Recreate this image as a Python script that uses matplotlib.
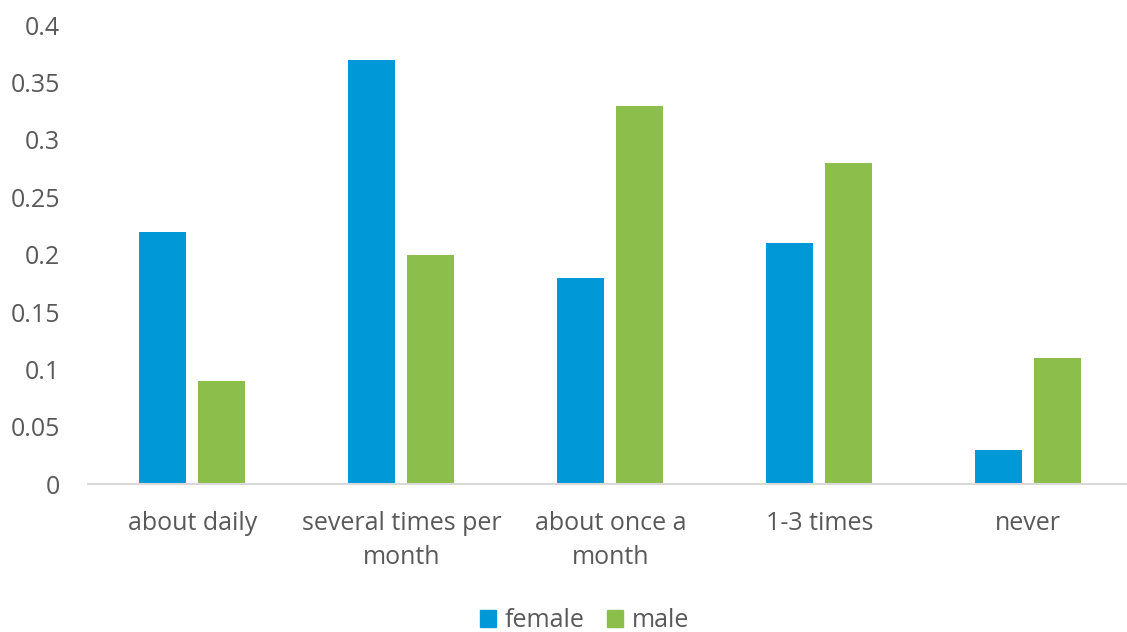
import numpy as np
import matplotlib.pyplot as plt
from matplotlib.patches import Patch

categories = ["about daily", "several times per\nmonth", "about once a\nmonth", "1-3 times", "never"]
female = [0.22, 0.37, 0.18, 0.21, 0.03]
male = [0.09, 0.20, 0.33, 0.28, 0.11]
yticks = [0, 0.05, 0.1, 0.15, 0.2, 0.25, 0.3, 0.35, 0.4]
ytick_labels = ["0", "0.05", "0.1", "0.15", "0.2", "0.25", "0.3", "0.35", "0.4"]

blue = "#0098D6"
green = "#8CBE4B"
text_grey = "#595959"

plt.rcParams['font.family'] = ['Open Sans', 'DejaVu Sans']

fig = plt.figure(figsize=(11.27, 6.32), dpi=100)
# plot area runs slightly past the right edge of the canvas
ax = fig.add_axes([0.078, 0.234, 0.927, 0.726])

x = np.arange(len(categories))
w = 0.225
off = 0.141
ax.bar(x - off, female, w, color=blue, label="female")
ax.bar(x + off, male, w, color=green, label="male")

ax.set_xlim(-0.5, len(categories) - 0.5)
ax.set_ylim(0, 0.4)
ax.set_yticks(yticks)
ax.set_yticklabels(ytick_labels)
ax.set_xticks(x)
ax.set_xticklabels(categories, linespacing=1.5)

for s in ["top", "right", "left"]:
    ax.spines[s].set_visible(False)
ax.spines["bottom"].set_color("#D9D9D9")
ax.spines["bottom"].set_linewidth(1.5)

ax.tick_params(axis="both", length=0, labelsize=18, colors=text_grey)
ax.tick_params(axis="y", pad=20)
ax.tick_params(axis="x", pad=19)

handles = [Patch(color=blue, label="female"), Patch(color=green, label="male")]
leg = fig.legend(handles=handles, loc="center", bbox_to_anchor=(0.519, 0.018),
                 ncol=2, frameon=False, fontsize=18, handlelength=0.64,
                 handleheight=0.64, handletextpad=0.35, columnspacing=0.9)
for t in leg.get_texts():
    t.set_color(text_grey)

fig.savefig("out.png", dpi=100)
